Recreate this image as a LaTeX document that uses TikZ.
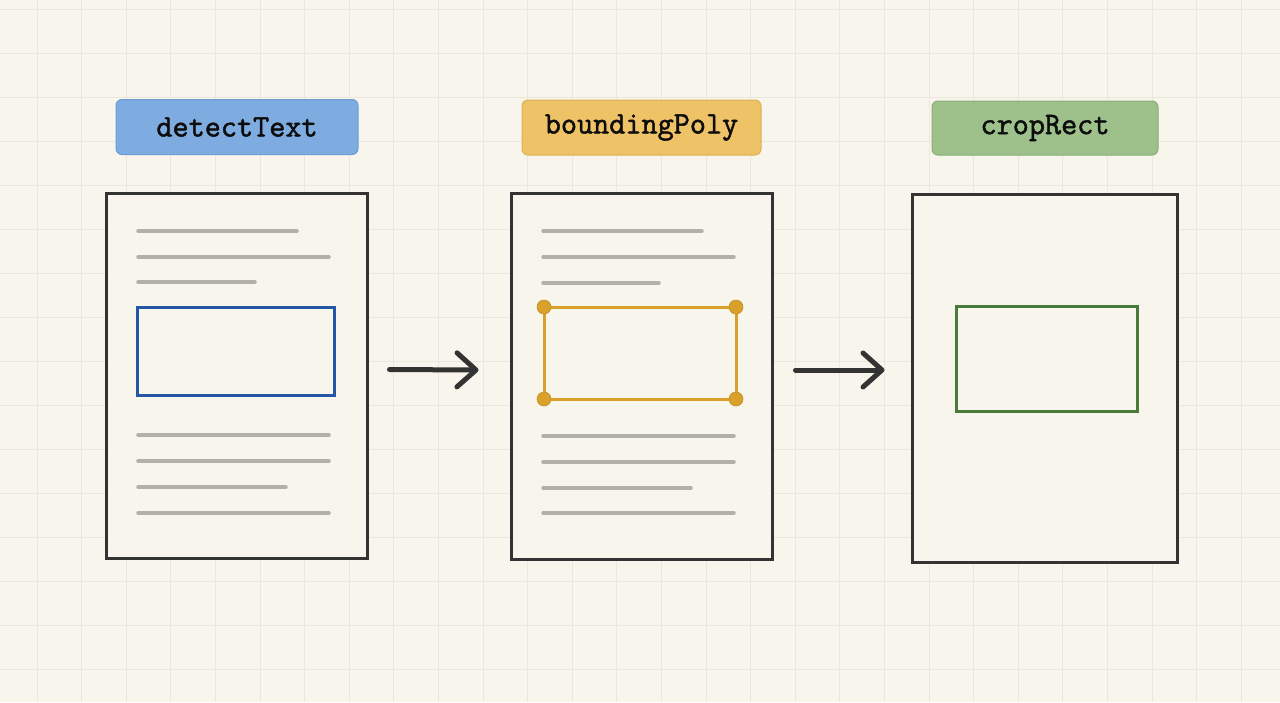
\documentclass[tikz,border=0pt]{standalone}
\usepackage{fontspec}
\newfontfamily\lblfont{Latin Modern Mono}[FakeBold=1.6]
\usetikzlibrary{arrows.meta,calc}
\definecolor{paper}{HTML}{F8F5EC}
\definecolor{gridc}{HTML}{ECE7DC}
\definecolor{ink}{HTML}{333333}
\definecolor{txtline}{HTML}{B3B0AA}
\definecolor{bluef}{HTML}{7EACE1}
\definecolor{bluel}{HTML}{6C9CD8}
\definecolor{blued}{HTML}{2457A6}
\definecolor{orangef}{HTML}{EEC267}
\definecolor{orangel}{HTML}{DDB052}
\definecolor{oranged}{HTML}{D9A12A}
\definecolor{greenf}{HTML}{9EC18C}
\definecolor{greenl}{HTML}{88AE76}
\definecolor{greend}{HTML}{4A7A3A}
\tikzset{
  label box/.style={draw=#1, line width=1pt, rounded corners=6pt, inner sep=0pt,
    font=\lblfont\fontsize{31.3}{33}\selectfont, text=black!95},
  page/.style={draw=ink, line width=3pt, fill=paper, inner sep=0pt},
  tline/.style={draw=txtline, line width=3.5pt, line cap=round},
  flow/.style={draw=ink, line width=5pt, line cap=round,
    -{Straight Barb[length=19pt,width=34pt,line width=5pt,round]}},
  dot/.style={circle, fill=oranged, draw=oranged!90!black, line width=0.6pt, minimum size=14pt, inner sep=0pt}
}
\begin{document}
\begin{tikzpicture}[x=1pt,y=-1pt]
\useasboundingbox (0,0) rectangle (1280,702);
\fill[paper] (0,0) rectangle (1280,702);
\foreach \k in {0,...,28} \draw[gridc, line width=1pt] ({37+44.6*\k},0) -- ({37+44.6*\k},702);
\foreach \k in {0,...,15} \draw[gridc, line width=1pt] (0,{9+44*\k}) -- (1280,{9+44*\k});

% labels
\node[label box=bluel, fill=bluef, minimum width=242pt, minimum height=55pt] (l1) at (237,127) {detectText};
\node[label box=orangel, fill=orangef, minimum width=239pt, minimum height=55pt] (l2) at (641.5,127.5) {boundingPoly};
\node[label box=greenl, fill=greenf, minimum width=226pt, minimum height=54pt] (l3) at (1045,128) {cropRect};

% pages
\node[page, minimum width=261pt, minimum height=365pt] (p1) at (236.5,375.5) {};
\node[page, minimum width=261pt, minimum height=366pt] (p2) at (641.5,376) {};
\node[page, minimum width=265pt, minimum height=368pt] (p3) at (1044.5,378) {};

% page 1 text lines
\draw[tline] (138,231) -- (297,231);
\draw[tline] (138,257) -- (329,257);
\draw[tline] (138,282) -- (255,282);
\draw[tline] (138,435) -- (329,435);
\draw[tline] (138,461) -- (329,461);
\draw[tline] (138,487) -- (286,487);
\draw[tline] (138,513) -- (329,513);
\draw[blued, line width=3pt] (137,307) rectangle (334,395);

% page 2 text lines
\draw[tline] (543,231) -- (702,231);
\draw[tline] (543,257) -- (734,257);
\draw[tline] (543,283) -- (659,283);
\draw[tline] (543,436) -- (734,436);
\draw[tline] (543,462) -- (734,462);
\draw[tline] (543,488) -- (691,488);
\draw[tline] (543,513) -- (734,513);
\coordinate (c1) at (544,307);
\coordinate (c2) at (736,307);
\coordinate (c3) at (736,399);
\coordinate (c4) at (544,399);
\draw[oranged, line width=3pt] (c1) -- (c2) -- (c3) -- (c4) -- cycle;
\foreach \c in {c1,c2,c3,c4} \node[dot] at (\c) {};

% page 3 crop rect
\draw[greend, line width=3pt] (956,306) rectangle (1137,411);

% arrows
\draw[flow] ([xshift=21pt,yshift=6pt]p1.east) -- ([xshift=-31pt,yshift=6pt]p2.west);
\draw[flow] ([xshift=22pt,yshift=6pt]p2.east) -- ([xshift=-26pt,yshift=8pt]p3.west);
\end{tikzpicture}
\end{document}
